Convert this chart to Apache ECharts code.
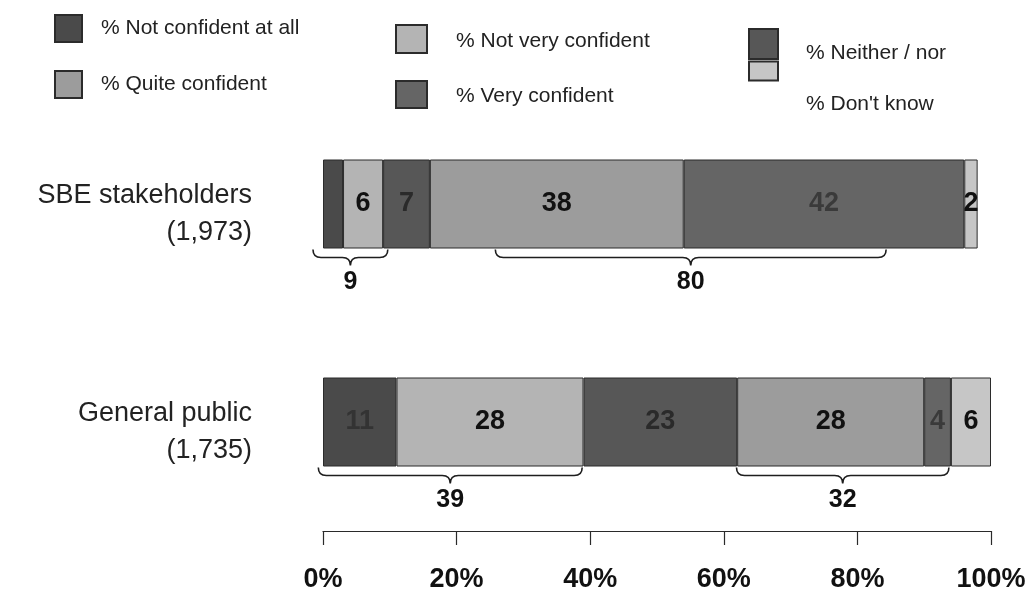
<!DOCTYPE html>
<html>
<head>
<meta charset="utf-8">
<title>Confidence by group</title>
<script src="https://cdn.jsdelivr.net/npm/echarts@6/dist/echarts.min.js"></script>
<style>
  html, body { margin: 0; padding: 0; background: #ffffff; }
  #chart { width: 1029px; height: 598px; }
</style>
</head>
<body>
<div id="chart"></div>
<script>
// Respondent groups and their sample sizes
const categories = ['SBE stakeholders', 'General public'];
const sampleSizes = ['1,973', '1,735'];

// Share of respondents (%) per answer, one value per group
const notConfidentAtAll = [3, 11];
const notVeryConfident = [6, 28];
const neitherNor = [7, 23];
const quiteConfident = [38, 28];
const veryConfident = [42, 4];
const dontKnow = [2, 6];

// Axis tick labels
const tickValues = [0, 20, 40, 60, 80, 100];

// Answer series, in stacking order
const answers = [
  { name: '% Not confident at all', values: notConfidentAtAll },
  { name: '% Not very confident', values: notVeryConfident },
  { name: '% Neither / nor', values: neitherNor },
  { name: '% Quite confident', values: quiteConfident },
  { name: '% Very confident', values: veryConfident },
  { name: "% Don't know", values: dontKnow }
];

// Combined groups bracketed under each bar: [group, answer indices, bracket span in %]
const bracketGroups = [
  { group: 0, parts: [0, 1], span: [-1.5, 9.7] },
  { group: 0, parts: [3, 4], span: [25.8, 84.3] },
  { group: 1, parts: [0, 1], span: [-0.7, 38.8] },
  { group: 1, parts: [3, 4], span: [61.9, 93.7] }
];

// Segments that carry no value label: [answer index, group index]
const unlabeled = [[0, 0]];

const FONT = '"Liberation Sans", Arial, Helvetica, sans-serif';
const BAR_WIDTH = 89;

const fills = ['#4a4a4a', '#b4b4b4', '#575757', '#9c9c9c', '#656565', '#c6c6c6'];
const labelInk = ['#333333', '#111111', '#2a2a2a', '#111111', '#3a3a3a', '#111111'];

const barSeries = answers.map((a, i) => ({
  name: a.name,
  type: 'bar',
  stack: 'total',
  barWidth: BAR_WIDTH,
  itemStyle: { color: fills[i], borderColor: '#2b2b2b', borderWidth: 1 },
  label: {
    show: true,
    position: 'inside',
    color: labelInk[i],
    fontFamily: FONT,
    fontWeight: 'bold',
    fontSize: 27
  },
  data: a.values.map((v, g) => {
    const hidden = unlabeled.some(u => u[0] === i && u[1] === g);
    return hidden ? { value: v, label: { show: false } } : v;
  })
}));

const bracketData = bracketGroups.map(b => {
  const total = b.parts.reduce((s, p) => s + answers[p].values[b.group], 0);
  return [b.span[0], b.span[1], categories[b.group], total];
});

const bracketSeries = {
  type: 'custom',
  name: 'brackets',
  coordinateSystem: 'cartesian2d',
  encode: { x: [0, 1], y: 2 },
  z: 5,
  silent: true,
  data: bracketData,
  renderItem: function (params, api) {
    const cat = api.value(2);
    const a = api.coord([api.value(0), cat]);
    const b = api.coord([api.value(1), cat]);
    const x0 = a[0], x1 = b[0];
    const xc = (x0 + x1) / 2;
    const yTop = a[1] + BAR_WIDTH / 2 + 1;
    const yMid = yTop + 8;
    const yTip = yTop + 16;
    const r = 8;
    const d = [
      'M', x0, yTop,
      'Q', x0, yMid, x0 + r, yMid,
      'L', xc - r, yMid,
      'Q', xc, yMid, xc, yTip,
      'Q', xc, yMid, xc + r, yMid,
      'L', x1 - r, yMid,
      'Q', x1, yMid, x1, yTop
    ].join(' ');
    return {
      type: 'group',
      children: [
        {
          type: 'path',
          shape: { pathData: d },
          style: { stroke: '#1e1e1e', fill: null, lineWidth: 1.6 }
        },
        {
          type: 'text',
          style: {
            text: String(api.value(3)),
            x: xc,
            y: yTop + 33,
            textAlign: 'center',
            textVerticalAlign: 'middle',
            fontFamily: FONT,
            fontWeight: 'bold',
            fontSize: 25,
            fill: '#111111'
          }
        }
      ]
    };
  }
};

// One legend block per answer so each entry sits where it belongs;
// "drop" pushes the text below the centre of its swatch
function legendEntry(name, left, top, w, h, drop, padLeft) {
  return {
    data: [name],
    left: left,
    top: top,
    padding: 0,
    icon: 'rect',
    itemWidth: w,
    itemHeight: h,
    selectedMode: false,
    formatter: function (n) {
      return drop > 0 ? '{s| }\n{t|' + n + '}' : '{t|' + n + '}';
    },
    textStyle: {
      fontFamily: FONT,
      fontSize: 21,
      color: '#222222',
      rich: {
        s: { fontSize: 2, lineHeight: drop * 2 },
        t: { fontFamily: FONT, fontSize: 21, color: '#222222', lineHeight: 24, padding: [0, 0, 0, padLeft] }
      }
    }
  };
}

const option = {
  backgroundColor: '#ffffff',
  animation: false,
  legend: [
    legendEntry(answers[0].name, 54, 14, 27, 27, 0, 14),
    legendEntry(answers[3].name, 54, 70, 27, 27, 0, 14),
    legendEntry(answers[1].name, 395, 24, 31, 28, 2, 24),
    legendEntry(answers[4].name, 395, 80, 31, 27, 2, 24),
    legendEntry(answers[2].name, 748, 28, 29, 30, 9, 23),
    legendEntry(answers[5].name, 748, 58, 29, 19, 33, 23)
  ],
  grid: { left: 323, right: 38, top: 95, height: 436 },
  xAxis: {
    type: 'value',
    min: tickValues[0],
    max: tickValues[tickValues.length - 1],
    interval: tickValues[1] - tickValues[0],
    axisLine: { show: true, lineStyle: { color: '#2a2a2a', width: 1.2 } },
    axisTick: { show: true, length: 14, lineStyle: { color: '#2a2a2a', width: 1.2 } },
    axisLabel: {
      formatter: '{value}%',
      margin: 35,
      fontFamily: FONT,
      fontWeight: 'bold',
      fontSize: 27,
      color: '#111111'
    },
    splitLine: { show: false }
  },
  yAxis: {
    type: 'category',
    inverse: true,
    data: categories,
    axisLine: { show: false },
    axisTick: { show: false },
    axisLabel: {
      margin: 71,
      align: 'right',
      fontFamily: FONT,
      fontSize: 27,
      color: '#222222',
      formatter: function (value, idx) {
        return '{s| }\n{t|' + value + '}\n{t|(' + sampleSizes[idx] + ')}';
      },
      rich: {
        s: { fontSize: 2, lineHeight: 20, align: 'right' },
        t: { fontFamily: FONT, fontSize: 27, lineHeight: 37, color: '#222222', align: 'right' }
      }
    }
  },
  series: barSeries.concat([bracketSeries])
};

const chart = echarts.init(document.getElementById('chart'), null, { renderer: 'canvas' });
chart.setOption(option);
</script>
</body>
</html>
